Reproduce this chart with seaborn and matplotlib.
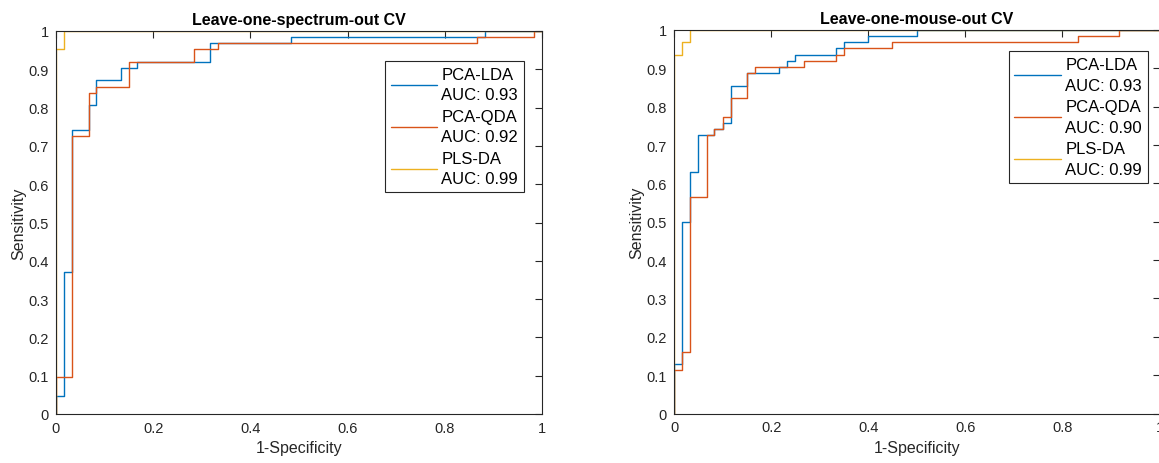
import numpy as np
import pandas as pd
import matplotlib
matplotlib.use("Agg")
import matplotlib.pyplot as plt
import seaborn as sns

# ---------------- data ----------------
methods = ["PCA-LDA", "PCA-QDA", "PLS-DA"]

# Leave-one-spectrum-out CV
spec_lda_fpr = [0, 0, 0.017, 0.033, 0.067, 0.083, 0.133, 0.167, 0.317, 0.483, 0.883, 1.0]
spec_lda_tpr = [0, 0.048, 0.371, 0.742, 0.806, 0.871, 0.903, 0.919, 0.968, 0.984, 1.0, 1.0]
spec_qda_fpr = [0, 0, 0.033, 0.067, 0.083, 0.150, 0.283, 0.333, 0.867, 0.983, 1.0]
spec_qda_tpr = [0, 0.097, 0.726, 0.839, 0.855, 0.919, 0.952, 0.968, 0.984, 1.0, 1.0]
spec_pls_fpr = [0, 0, 0.017, 1.0]
spec_pls_tpr = [0, 0.952, 1.0, 1.0]
spec_auc = [0.93, 0.92, 0.99]

# Leave-one-mouse-out CV
mouse_lda_fpr = [0, 0, 0.017, 0.033, 0.050, 0.083, 0.100, 0.117, 0.150, 0.217, 0.233, 0.250, 0.333, 0.350, 0.400, 0.500, 1.0]
mouse_lda_tpr = [0, 0.129, 0.500, 0.629, 0.726, 0.742, 0.758, 0.855, 0.887, 0.903, 0.919, 0.935, 0.952, 0.968, 0.984, 1.0, 1.0]
mouse_qda_fpr = [0, 0, 0.017, 0.033, 0.067, 0.083, 0.100, 0.117, 0.150, 0.167, 0.267, 0.333, 0.350, 0.450, 0.833, 0.917, 1.0]
mouse_qda_tpr = [0, 0.113, 0.161, 0.565, 0.726, 0.742, 0.774, 0.823, 0.887, 0.903, 0.919, 0.935, 0.952, 0.968, 0.984, 1.0, 1.0]
mouse_pls_fpr = [0, 0, 0.017, 0.033, 1.0]
mouse_pls_tpr = [0, 0.935, 0.968, 1.0, 1.0]
mouse_auc = [0.93, 0.90, 0.99]

titles = ["Leave-one-spectrum-out CV", "Leave-one-mouse-out CV"]
xticks = [0, 0.2, 0.4, 0.6, 0.8, 1]
yticks = [0, 0.1, 0.2, 0.3, 0.4, 0.5, 0.6, 0.7, 0.8, 0.9, 1]
xtick_labels = ["0", "0.2", "0.4", "0.6", "0.8", "1"]
ytick_labels = ["0", "0.1", "0.2", "0.3", "0.4", "0.5", "0.6", "0.7", "0.8", "0.9", "1"]

colors = ["#0072BD", "#D95319", "#EDB120"]

# ---------------- style ----------------
sns.set_theme(style="white")
plt.rcParams["font.family"] = ["Liberation Sans", "DejaVu Sans"]
plt.rcParams["axes.edgecolor"] = "#262626"
plt.rcParams["xtick.color"] = "#262626"
plt.rcParams["ytick.color"] = "#262626"

fig = plt.figure(figsize=(11.59, 4.64), dpi=100)
ax1 = fig.add_axes([56 / 1159, 1 - 415 / 464, 486 / 1159, 383 / 464])
ax2 = fig.add_axes([674 / 1159, 1 - 414.5 / 464, 485.5 / 1159, 383.5 / 464])


def make_df(curves):
    frames = []
    for name, fpr, tpr in curves:
        frames.append(pd.DataFrame({"fpr": fpr, "tpr": tpr, "method": name}))
    return pd.concat(frames, ignore_index=True)


datasets = [
    (make_df([(methods[0], spec_lda_fpr, spec_lda_tpr),
              (methods[1], spec_qda_fpr, spec_qda_tpr),
              (methods[2], spec_pls_fpr, spec_pls_tpr)]), spec_auc),
    (make_df([(methods[0], mouse_lda_fpr, mouse_lda_tpr),
              (methods[1], mouse_qda_fpr, mouse_qda_tpr),
              (methods[2], mouse_pls_fpr, mouse_pls_tpr)]), mouse_auc),
]

legend_pos = [(0.963, 0.922), (0.976, 0.944)]

for i, (ax, (df, aucs)) in enumerate(zip([ax1, ax2], datasets)):
    sns.lineplot(data=df, x="fpr", y="tpr", hue="method", hue_order=methods,
                 palette=colors, sort=False, estimator=None, units="method",
                 drawstyle="steps-post", linewidth=1.0, ax=ax, legend=False)
    ax.set_xlim(0, 1)
    ax.set_ylim(0, 1)
    ax.set_xticks(xticks)
    ax.set_xticklabels(xtick_labels)
    ax.set_yticks(yticks)
    ax.set_yticklabels(ytick_labels)
    ax.tick_params(direction="in", length=5, width=0.8, top=True, right=True,
                   labelsize=10.5, pad=5)
    for sp in ax.spines.values():
        sp.set_linewidth(0.8)
        sp.set_color("#262626")
    ax.set_xlabel("1-Specificity", fontsize=11.5, color="#262626", labelpad=4)
    ax.set_ylabel("Sensitivity", fontsize=11.5, color="#262626", labelpad=2)
    ax.set_title(titles[i], fontsize=11.5, fontweight="bold", color="black", pad=5)

    handles = ax.get_lines()[:3]
    labels = [f"{m}\nAUC: {a:.2f}" for m, a in zip(methods, aucs)]
    leg = ax.legend(handles, labels, loc="upper right",
                    bbox_to_anchor=legend_pos[i], fontsize=12,
                    frameon=True, fancybox=False, framealpha=1,
                    edgecolor="#262626", handlelength=2.8, handletextpad=0.25,
                    borderpad=0.35, labelspacing=0.4, borderaxespad=0)
    leg.get_frame().set_linewidth(0.8)
    for t in leg.get_texts():
        t.set_linespacing(1.45)
        t.set_multialignment("left")
        t.set_color("black")

fig.savefig("out.png", dpi=100)
